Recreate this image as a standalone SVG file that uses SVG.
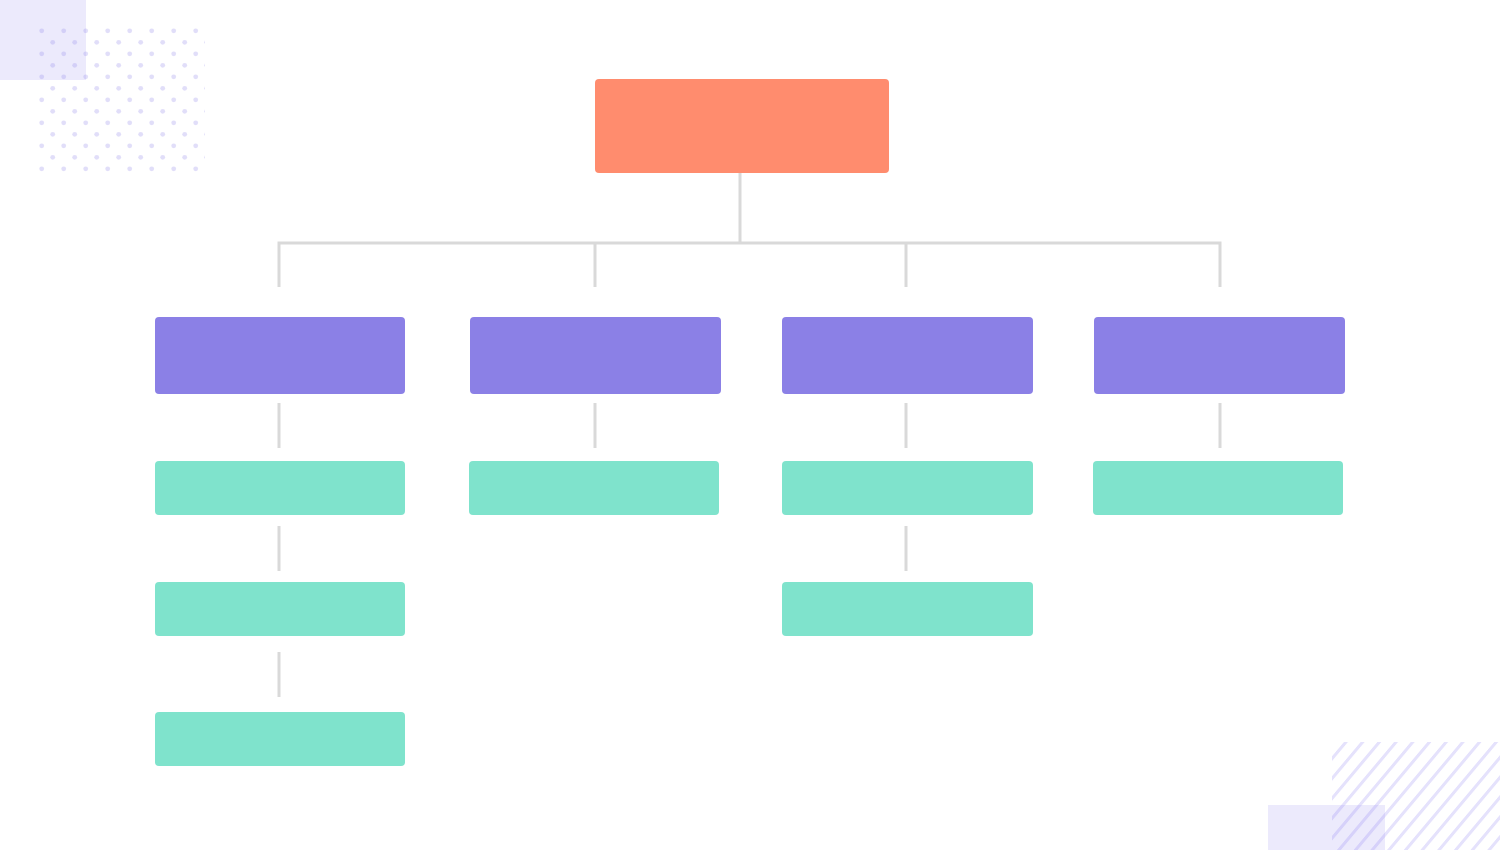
<svg xmlns="http://www.w3.org/2000/svg" width="1500" height="850" viewBox="0 0 1500 850">
  <style>
    .root { fill: #ff8c6e; }
    .mid { fill: #8b80e6; }
    .leaf { fill: #7fe3cc; }
    .conn { stroke: #d9d9d9; stroke-width: 3; fill: none; }
    .deco { fill: #6c5ce7; fill-opacity: 0.13; }
  </style>
  <defs>
    <pattern id="dots" patternUnits="userSpaceOnUse" x="38" y="28" width="22" height="23">
      <circle cx="3.7" cy="2.8" r="2.4" fill="#8f86ea" fill-opacity="0.27"/>
      <circle cx="14.7" cy="14.3" r="2.4" fill="#8f86ea" fill-opacity="0.27"/>
    </pattern>
    <pattern id="hatch" patternUnits="userSpaceOnUse" x="1332" y="742" width="16.7" height="20" patternTransform="skewX(-40)">
      <rect x="0" y="0" width="4" height="20" fill="#7b6ff0" fill-opacity="0.2"/>
    </pattern>
  </defs>

  <rect width="1500" height="850" fill="#ffffff"/>

  <g id="decor">
    <rect class="deco" x="0" y="0" width="86" height="80"/>
    <rect x="38" y="28" width="167" height="145" fill="url(#dots)"/>
    <rect class="deco" x="1268" y="805" width="117" height="45"/>
    <rect x="1332" y="742" width="168" height="108" fill="url(#hatch)"/>
  </g>

  <g id="connectors">
    <path class="conn" d="M740 173 V243 M279 287 V243 H1220 V287 M595 243 V287 M906 243 V287"/>
    <path class="conn" d="M279 403 V448 M595 403 V448 M906 403 V448 M1220 403 V448"/>
    <path class="conn" d="M279 526 V571 M906 526 V571 M279 652 V697"/>
  </g>

  <g id="root"><rect class="root" x="595" y="79" width="294" height="94" rx="4"/></g>

  <g id="mid1"><rect class="mid" x="155" y="317" width="250" height="77" rx="4"/></g>
  <g id="mid2"><rect class="mid" x="470" y="317" width="251" height="77" rx="4"/></g>
  <g id="mid3"><rect class="mid" x="782" y="317" width="251" height="77" rx="4"/></g>
  <g id="mid4"><rect class="mid" x="1094" y="317" width="251" height="77" rx="4"/></g>

  <g id="leaf1a"><rect class="leaf" x="155" y="461" width="250" height="54" rx="4"/></g>
  <g id="leaf1b"><rect class="leaf" x="155" y="582" width="250" height="54" rx="4"/></g>
  <g id="leaf1c"><rect class="leaf" x="155" y="712" width="250" height="54" rx="4"/></g>
  <g id="leaf2a"><rect class="leaf" x="469" y="461" width="250" height="54" rx="4"/></g>
  <g id="leaf3a"><rect class="leaf" x="782" y="461" width="251" height="54" rx="4"/></g>
  <g id="leaf3b"><rect class="leaf" x="782" y="582" width="251" height="54" rx="4"/></g>
  <g id="leaf4a"><rect class="leaf" x="1093" y="461" width="250" height="54" rx="4"/></g>
</svg>
